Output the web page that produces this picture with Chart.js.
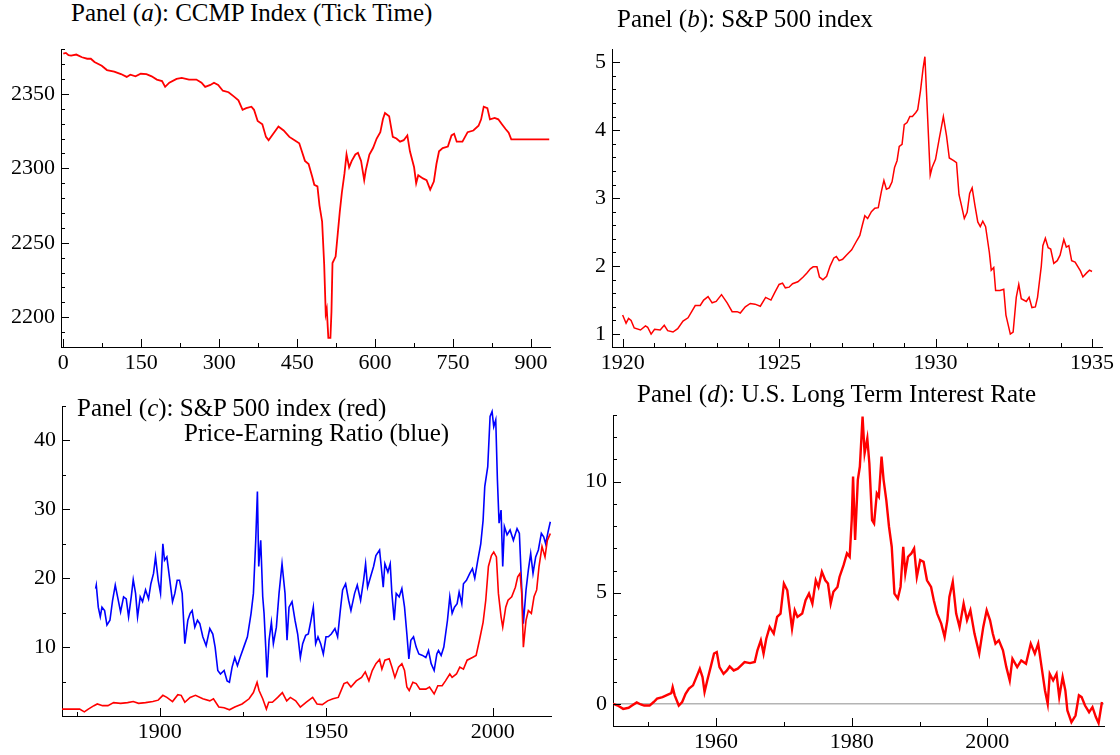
<!DOCTYPE html>
<html><head><meta charset="utf-8">
<script src="https://cdn.jsdelivr.net/npm/chart.js@4/dist/chart.umd.min.js"></script>
<style>
html,body{margin:0;padding:0;background:#fff;width:1120px;height:755px;overflow:hidden;position:relative}
canvas{position:absolute}
.t{position:absolute;z-index:2;font-family:'Liberation Serif','Times New Roman',serif;font-size:25px;line-height:25px;color:#000;white-space:nowrap}
</style></head><body>
<canvas id="ca" width="560" height="350" style="left:0px;top:30px"></canvas>
<canvas id="cb" width="600" height="350" style="left:560px;top:30px"></canvas>
<canvas id="cc" width="560" height="370" style="left:0px;top:385px"></canvas>
<canvas id="cd" width="560" height="365" style="left:560px;top:390px"></canvas>
<div class="t" style="left:71px;top:0px">Panel (<i>a</i>): CCMP Index (Tick Time)</div>
<div class="t" style="left:617px;top:6px">Panel (<i>b</i>): S&amp;P 500 index</div>
<div class="t" style="left:77px;top:395px">Panel (<i>c</i>): S&amp;P 500 index (red)</div>
<div class="t" style="left:184px;top:420px">Price-Earning Ratio (blue)</div>
<div class="t" style="left:637px;top:381px">Panel (<i>d</i>): U.S. Long Term Interest Rate</div>
<script>
// ---------- DATA ----------
// Panel (a): CCMP index in tick time
const ccmpTick = [
  0,5,10,15,25,36,46,53,60,74,
  84,98,111,122,129,139,149,160,170,180,
  190,196,204,218,228,242,256,266,273,283,
  290,298,307,318,328,337,345,352,362,367,
  374,383,390,395,404,414,424,435,445,454,
  459,465,472,479,483,489,493,498,502,505,
  507,510,514,516,518,524,528,532,536,541,
  545,550,555,562,567,573,579,582,589,596,
  603,610,615,619,627,634,641,648,655,662,
  667,675,679,683,692,699,706,713,718,723,
  730,740,747,752,757,768,778,789,799,804,
  809,816,821,830,837,844,851,857,862,935];
const ccmpIndex = [
  2377,2377.5,2376,2375.7,2376.4,2374.6,2373.6,2373.6,2371.4,2368.9,
  2366,2365,2363.3,2361.4,2362.9,2361.8,2363.5,2363.3,2361.8,2359.6,
  2358.6,2354.7,2357.5,2360.1,2360.7,2359.6,2359.6,2357.5,2354.7,2356,
  2357.5,2356,2352.1,2351.1,2348.3,2345.7,2339.3,2340.4,2341.4,2339.3,
  2331.8,2329.6,2321.1,2318.9,2323.2,2328.1,2325.4,2321.1,2318.9,2316.8,
  2311.4,2305,2302.9,2294.3,2288.9,2287.9,2275,2264.3,2235.4,2202.2,
  2205.4,2186.1,2186.1,2203.6,2236.4,2240.7,2255.7,2270.7,2283.6,2296.4,
  2309.3,2300.7,2305,2309.3,2310.4,2305,2292.1,2298.6,2309.3,2313.6,
  2320,2324.3,2332.9,2337.1,2335,2321.1,2320,2317.9,2318.9,2322.1,
  2311.4,2300.7,2290,2295.4,2293.2,2292.1,2285.7,2291.1,2302.9,2311.4,
  2313.6,2314.6,2322.1,2323.2,2317.9,2317.9,2324.3,2325.4,2328.6,2332.9,
  2341.4,2340.4,2332.9,2333.9,2332.9,2329.6,2326.4,2323.9,2319.4,2319.4];
const ticksAX = [0,150,300,450,600,750,900];
const ticksAY = [2200,2250,2300,2350];

// Panel (b): S&P 500 index 1920-1935
const spYear = [
  1920.00,1920.11,1920.19,1920.27,1920.37,1920.57,1920.73,1920.80,1920.91,1921.02,
  1921.20,1921.33,1921.44,1921.61,1921.76,1921.93,1922.09,1922.32,1922.48,1922.59,
  1922.73,1922.86,1922.99,1923.16,1923.34,1923.50,1923.66,1923.76,1923.92,1924.08,
  1924.23,1924.40,1924.57,1924.74,1924.86,1925.00,1925.11,1925.20,1925.32,1925.43,
  1925.60,1925.77,1925.89,1926.00,1926.09,1926.21,1926.29,1926.40,1926.52,1926.63,
  1926.75,1926.83,1926.92,1927.03,1927.15,1927.32,1927.49,1927.58,1927.66,1927.74,
  1927.83,1927.95,1928.06,1928.17,1928.27,1928.35,1928.43,1928.52,1928.61,1928.69,
  1928.77,1928.84,1928.93,1929.00,1929.09,1929.18,1929.26,1929.37,1929.43,1929.52,
  1929.60,1929.66,1929.83,1929.89,1930.00,1930.12,1930.25,1930.35,1930.44,
  1930.58,1930.67,1930.75,1930.83,1930.92,1931.01,1931.09,1931.17,1931.26,1931.35,
  1931.43,1931.51,1931.60,1931.72,1931.78,1931.86,1931.92,1932.06,1932.18,1932.25,
  1932.39,1932.48,1932.58,1932.66,1932.74,1932.90,1932.99,1933.08,1933.19,1933.26,
  1933.38,1933.43,1933.51,1933.60,1933.68,1933.78,1933.89,1933.98,1934.10,1934.18,
  1934.26,1934.35,1934.46,1934.63,1934.71,1934.83,1934.92,1935.00];
const spIndex = [
  1.28,1.16,1.23,1.20,1.09,1.06,1.12,1.10,1.00,1.07,
  1.06,1.13,1.05,1.03,1.08,1.19,1.24,1.42,1.42,1.50,
  1.55,1.46,1.48,1.58,1.46,1.33,1.33,1.31,1.40,1.45,
  1.44,1.41,1.54,1.50,1.61,1.73,1.75,1.68,1.69,1.74,
  1.77,1.84,1.90,1.96,1.99,1.99,1.84,1.80,1.85,2.00,
  2.12,2.14,2.08,2.10,2.16,2.24,2.38,2.45,2.60,2.74,
  2.70,2.80,2.85,2.86,3.10,3.26,3.13,3.15,3.24,3.45,
  3.55,3.76,3.79,4.08,4.11,4.20,4.20,4.26,4.30,4.58,
  4.90,5.08,3.34,3.45,3.57,3.88,4.20,3.92,3.59,
  3.55,3.52,3.05,2.89,2.70,2.79,3.07,3.15,2.89,2.65,
  2.58,2.66,2.58,2.20,1.94,1.98,1.64,1.64,1.66,1.28,
  1.00,1.03,1.54,1.73,1.52,1.48,1.54,1.39,1.40,1.54,
  2.00,2.30,2.41,2.27,2.25,2.04,2.08,2.16,2.39,2.28,
  2.30,2.08,2.06,1.93,1.84,1.90,1.94,1.92];
const ticksBX = [1920,1925,1930,1935];
const ticksBY = [1,2,3,4,5];

// Panel (c): price-earning ratio (blue) and S&P 500 index (red), long history
const peYear = [
  1880.7,1880.9,1881.5,1882.1,1882.6,1883.4,1884.1,1885.0,1885.8,1886.6,
  1887.3,1888.2,1889.1,1889.9,1890.6,1891.4,1892.0,1892.7,1893.3,1894.1,
  1894.8,1895.7,1896.6,1897.3,1898.1,1898.7,1899.5,1900.2,1900.9,1901.4,
  1902.1,1903.0,1903.8,1904.5,1905.2,1905.9,1906.7,1907.5,1908.4,1909.1,
  1909.7,1910.5,1911.3,1912.0,1912.9,1913.9,1915.0,1915.9,1916.6,1917.4,
  1918.2,1919.3,1920.2,1920.9,1921.7,1922.5,1923.3,1924.1,1925.2,1926.3,
  1927.4,1928.1,1928.8,1929.3,1929.7,1930.3,1930.9,1931.3,1931.8,1932.2,
  1932.8,1933.5,1934.1,1935.0,1935.8,1936.7,1937.6,1938.2,1938.8,1939.7,
  1940.6,1941.4,1942.2,1942.9,1943.8,1944.6,1945.4,1946.1,1946.8,1947.5,
  1948.3,1949.1,1949.9,1950.6,1951.5,1952.6,1953.4,1954.2,1954.9,1955.8,
  1956.7,1957.4,1958.5,1959.3,1960.3,1961.2,1961.8,1962.4,1963.3,1964.2,
  1964.9,1966.0,1966.5,1967.1,1967.6,1968.5,1969.2,1969.7,1970.4,1971.0,
  1971.9,1972.7,1973.5,1974.2,1974.8,1975.4,1976.2,1977.0,1977.8,1978.9,
  1979.9,1980.7,1981.5,1982.4,1983.2,1983.7,1984.5,1985.3,1986.4,1987.1,
  1987.8,1988.5,1989.3,1989.9,1990.7,1991.2,1992.1,1993.1,1993.9,1994.6,
  1995.5,1996.4,1997.1,1997.6,1998.5,1999.2,1999.8,2000.3,2000.9,2001.4,
  2001.9,2002.5,2003.0,2003.5,2004.3,2005.2,2006.2,2007.3,2008.0,2008.6,
  2009.2,2010.0,2010.7,2011.4,2012.1,2012.9,2013.7,2014.6,2015.3,2015.9,
  2016.6,2017.3];
const peRatio = [
  18.5,19.0,15.8,14.4,15.8,15.3,13.2,13.9,16.8,19.0,
  17.3,15.1,17.3,17.0,14.4,17.3,19.8,17.8,14.4,17.3,
  16.6,18.3,17.0,19.2,20.7,23.1,19.7,17.8,25.0,22.6,
  23.1,19.7,16.6,17.8,19.7,19.7,17.8,10.5,13.9,14.9,
  15.3,12.9,13.9,13.4,11.5,10.2,12.7,11.9,10.0,6.6,
  6.1,6.6,5.1,4.9,7.1,8.5,7.3,8.5,10.0,11.5,
  14.9,17.8,25.5,32.6,21.7,25.5,17.3,14.9,10.0,5.6,
  11.0,13.6,10.5,12.9,17.8,22.1,17.8,11.0,15.8,16.6,
  13.9,11.9,8.5,10.5,11.7,11.9,13.9,15.8,10.5,11.5,
  10.5,9.0,11.5,11.5,11.9,12.7,11.5,15.3,18.3,19.2,
  16.8,15.3,17.8,19.0,16.8,19.7,22.1,18.7,20.2,21.7,
  23.3,24.1,21.7,18.7,22.1,20.9,22.1,17.8,13.9,17.8,
  17.3,18.5,15.8,11.9,8.3,11.0,11.5,10.0,9.0,8.8,
  8.5,9.5,7.6,6.6,9.0,9.5,8.8,10.0,13.9,17.3,
  14.9,15.8,16.3,18.0,16.3,19.2,19.7,20.7,21.4,20.0,
  22.6,25.0,28.4,33.3,36.2,43.5,44.2,42.0,43.0,34.3,
  28.0,29.9,21.7,27.5,26.3,27.0,25.5,27.2,26.5,19.7,
  13.4,18.3,21.2,23.6,20.7,23.1,24.1,26.5,26.0,25.0,
  26.7,28.2];
const spLongYear = [
  1870.6,1875.9,1877.3,1878.5,1880.2,1881.2,1882.8,1884.4,1886.1,1888.2,
  1890.3,1892.0,1893.6,1895.7,1897.9,1899.5,1900.9,1902.1,1903.8,1905.4,
  1906.4,1907.5,1909.1,1910.7,1912.9,1915.0,1916.1,1917.7,1919.3,1920.9,
  1922.5,1924.7,1926.8,1928.1,1929.2,1929.8,1930.9,1932.0,1932.7,1933.8,
  1935.4,1936.8,1938.1,1939.2,1940.8,1942.2,1944.0,1945.9,1947.2,1948.8,
  1950.4,1952.0,1953.6,1955.3,1956.3,1957.4,1959.0,1960.6,1961.7,1962.8,
  1963.8,1964.9,1966.0,1966.7,1967.6,1968.9,1969.7,1970.6,1971.7,1972.7,
  1973.5,1974.2,1974.9,1976.0,1977.0,1978.1,1979.9,1981.0,1982.4,1983.5,
  1984.8,1985.8,1987.1,1987.8,1989.1,1990.1,1991.2,1992.3,1993.9,1995.0,
  1996.0,1997.1,1997.9,1998.7,1999.6,2000.3,2001.1,2001.7,2002.5,2003.0,
  2003.9,2004.6,2005.7,2006.8,2007.5,2008.2,2008.7,2009.2,2010.0,2010.7,
  2011.6,2012.4,2013.2,2013.9,2014.8,2015.7,2016.4,2017.3];
const spLongIndex = [
  1.0,1.0,0.6,1.0,1.5,1.75,1.5,1.5,1.94,1.84,
  1.94,2.1,1.84,1.94,2.1,2.3,3.0,2.7,2.1,3.1,
  3.0,2.0,2.7,3.0,2.5,2.2,2.5,1.3,1.2,0.9,
  1.3,1.75,2.5,3.4,4.9,3.7,2.5,1.0,2.0,2.0,
  2.7,3.4,2.2,2.7,2.2,1.3,2.0,2.7,1.75,1.65,
  2.2,2.5,2.7,4.7,4.9,4.2,5.1,5.6,6.4,5.1,
  6.6,7.6,8.2,6.8,8.1,8.3,7.1,5.6,7.1,7.6,
  6.6,4.2,3.7,4.9,4.7,3.9,3.9,4.2,3.2,4.4,
  4.4,5.1,6.1,5.6,6.1,7.1,6.8,8.1,8.5,8.8,
  11.0,13.6,16.8,21.7,23.3,23.8,23.1,17.8,14.4,12.9,
  15.8,16.8,17.3,18.7,20.2,20.7,17.8,10.0,13.9,15.3,
  14.9,17.3,18.3,21.7,24.6,23.1,25.5,26.5];
const ticksCX = [1900,1950,2000];
const ticksCY = [10,20,30,40];

// Panel (d): U.S. long term interest rate
const rateYear = [
  1944.8,1945.5,1946.3,1947.1,1947.6,1948.3,1948.9,1949.4,1950.2,1950.8,
  1951.3,1952.1,1952.9,1953.4,1953.6,1953.9,1954.5,1955.0,1955.5,1956.0,
  1956.6,1957.1,1957.6,1958.0,1958.3,1958.7,1959.2,1959.7,1960.1,1960.5,
  1961.1,1961.6,1962.0,1962.6,1963.2,1963.7,1964.2,1965.0,1965.7,1966.1,
  1966.6,1967.0,1967.4,1967.9,1968.5,1969.0,1969.5,1970.0,1970.5,1970.8,
  1971.2,1971.6,1972.0,1972.7,1973.2,1973.7,1974.2,1974.7,1975.1,1975.6,
  1976.1,1976.5,1976.9,1977.3,1977.9,1978.2,1978.8,1979.3,1979.7,1980.0,
  1980.2,1980.5,1980.9,1981.2,1981.6,1981.9,1982.3,1982.6,1983.0,1983.3,
  1983.7,1984.0,1984.4,1984.7,1985.1,1985.5,1985.9,1986.3,1986.8,1987.2,
  1987.6,1987.9,1988.3,1988.8,1989.2,1989.6,1990.1,1990.6,1991.1,1991.7,
  1992.1,1992.6,1993.2,1993.7,1994.1,1994.4,1994.9,1995.4,1995.9,1996.5,
  1997.0,1997.5,1998.1,1998.8,1999.4,1999.9,2000.4,2000.8,2001.2,2001.7,
  2002.3,2002.8,2003.3,2003.7,2004.4,2005.0,2005.7,2006.4,2007.0,2007.5,
  2008.0,2008.5,2008.9,2009.2,2009.7,2010.2,2010.6,2011.1,2011.5,2011.8,
  2012.4,2013.0,2013.5,2013.9,2014.4,2015.0,2015.5,2016.0,2016.4,2016.9];
const rateValue = [
  0.0,-0.08,-0.23,-0.18,-0.08,0.06,-0.03,-0.08,-0.08,0.08,
  0.23,0.30,0.41,0.48,0.75,0.38,-0.08,0.08,0.45,0.68,
  0.83,1.2,1.58,1.2,0.53,1.05,1.65,2.26,2.33,1.65,
  1.35,1.5,1.68,1.5,1.58,1.73,1.88,1.83,1.88,2.41,
  2.86,2.26,2.93,3.46,3.16,3.91,4.06,5.41,5.11,4.36,
  3.38,4.21,3.91,4.06,4.66,4.96,4.51,5.56,5.26,5.94,
  5.56,5.41,4.51,5.04,5.26,5.71,6.24,6.77,6.62,8.27,
  10.23,7.37,10.08,10.68,12.93,11.28,11.95,10.83,8.27,8.12,
  9.47,9.32,11.13,10.08,9.17,7.97,7.07,4.96,4.74,5.26,
  7.07,5.86,6.62,6.77,6.99,5.71,6.47,6.39,5.56,5.26,
  4.66,4.06,3.61,3.01,3.76,4.81,5.49,4.06,3.46,4.51,
  3.76,4.21,3.16,2.26,3.46,4.21,3.76,3.16,2.71,2.86,
  2.41,1.65,1.05,2.03,1.65,1.95,1.8,2.71,2.26,2.71,
  1.65,0.6,0.0,1.35,1.05,1.35,0.3,1.2,0.6,-0.3,
  -0.83,-0.53,0.38,0.3,-0.08,-0.38,-0.15,-0.6,-0.87,0.08];
const ticksDX = [1960,1980,2000];
const ticksDY = [0,5,10];

// ---------- RENDERING ----------
Chart.defaults.font.family = '"Liberation Serif", "Times New Roman", serif';
const FONT = {family: '"Liberation Serif", "Times New Roman", serif', size: 22};
const RED = '#ff0000', BLUE = '#0000ff';

function pts(xs, ys) { return xs.map((x, i) => ({x: x, y: ys[i]})); }

function axis(min, max, ticks, fixed, isX, pad) {
  return {
    type: 'linear', min: min, max: max,
    afterBuildTicks: s => { s.ticks = ticks.map(v => ({value: v})); },
    afterFit: s => { if (isX) s.height = fixed; else s.width = fixed; },
    ticks: {font: FONT, color: '#000', padding: pad, autoSkip: false, maxRotation: 0, minRotation: 0,
            callback: v => String(v)},
    grid: {display: false, drawTicks: false},
    border: {display: true, color: '#000', width: 1}
  };
}

const inwardTicks = {
  id: 'inwardTicks',
  afterDatasetsDraw(chart, args, o) {
    const ctx = chart.ctx, a = chart.chartArea, sx = chart.scales.x, sy = chart.scales.y;
    ctx.save();
    ctx.strokeStyle = '#000'; ctx.lineWidth = 1;
    const mark = (s, step, len, horiz) => {
      const i0 = Math.ceil(s.min / step - 1e-6), i1 = Math.floor(s.max / step + 1e-6);
      for (let i = i0; i <= i1; i++) {
        const p = Math.round(s.getPixelForValue(i * step)) + 0.5;
        ctx.beginPath();
        if (horiz) { ctx.moveTo(p, a.bottom); ctx.lineTo(p, a.bottom - len); }
        else { ctx.moveTo(a.left, p); ctx.lineTo(a.left + len, p); }
        ctx.stroke();
      }
    };
    mark(sx, o.xMinor, 4, true); mark(sx, o.xMajor, 8, true);
    mark(sy, o.yMinor, 4, false); mark(sy, o.yMajor, 8, false);
    ctx.restore();
  }
};

const zeroLine = {
  id: 'zeroLine',
  beforeDatasetsDraw(chart, args, o) {
    if (!o || !o.show) return;
    const ctx = chart.ctx, a = chart.chartArea, sy = chart.scales.y;
    const p = sy.getPixelForValue(0);
    ctx.save(); ctx.strokeStyle = '#b4b4b4'; ctx.lineWidth = 1.5;
    ctx.beginPath(); ctx.moveTo(a.left, p); ctx.lineTo(a.right, p); ctx.stroke();
    ctx.restore();
  }
};

const charts = [];
function make(id, datasets, xs, ys, pad, tickOpts, extra) {
  charts.push(new Chart(document.getElementById(id), {
    type: 'line',
    data: {datasets: datasets},
    options: {
      responsive: false, animation: false, events: [],
      layout: {padding: pad},
      elements: {point: {radius: 0}, line: {tension: 0}},
      plugins: Object.assign({legend: {display: false}, tooltip: {enabled: false}, inwardTicks: tickOpts}, extra || {}),
      scales: {x: xs, y: ys}
    },
    plugins: [zeroLine, inwardTicks]
  }));
}

function ds(xs, ys, color, w) {
  return {data: pts(xs, ys), borderColor: color, borderWidth: w, fill: false, pointRadius: 0};
}

make('ca', [ds(ccmpTick, ccmpIndex, RED, 1.8)],
  axis(-4.4, 936.5, ticksAX, 33, true, 3),
  axis(2180, 2380, ticksAY, 61, false, 6),
  {top: 7, right: 10, left: 0, bottom: 0},
  {xMajor: 150, xMinor: 75, yMajor: 50, yMinor: 10});

make('cb', [ds(spYear, spIndex, RED, 1.5)],
  axis(1919.66, 1935.32, ticksBX, 33, true, 3),
  axis(0.81, 5.19, ticksBY, 52, false, 6),
  {top: 7, right: 58, left: 0, bottom: 0},
  {xMajor: 5, xMinor: 1, yMajor: 1, yMinor: 0.2});

make('cc', [ds(spLongYear, spLongIndex, RED, 1.6), ds(peYear, peRatio, BLUE, 1.6)],
  axis(1870.6, 2017.5, ticksCX, 39, true, 3),
  axis(0, 45, ticksCY, 62, false, 6),
  {top: 21, right: 9, left: 0, bottom: 0},
  {xMajor: 50, xMinor: 25, yMajor: 10, yMinor: 5});

make('cd', [ds(rateYear, rateValue, RED, 2.4)],
  axis(1944.8, 2017.2, ticksDX, 29, true, 3),
  axis(-1.0, 13.0, ticksDY, 53, false, 6),
  {top: 25, right: 16, left: 0, bottom: 0},
  {xMajor: 20, xMinor: 10, yMajor: 5, yMinor: 1},
  {zeroLine: {show: true}});

if (document.fonts && document.fonts.load) {
  document.fonts.load('22px "Liberation Serif"').then(() => charts.forEach(c => c.update('none')));
}
</script>
</body></html>
